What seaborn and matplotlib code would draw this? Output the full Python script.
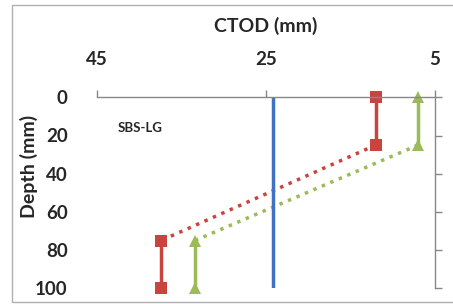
import seaborn as sns
import matplotlib.pyplot as plt
import matplotlib.patches as patches
import pandas as pd

# DATA #
depth = [0, 25, 75, 100]
red_ctod = [12, 12, 37.4, 37.4]
green_ctod = [7, 7, 33.4, 33.4]
blue_depth = [0, 100]
blue_ctod = [24.1, 24.1]
x_ticks = [45, 25, 5]
y_ticks = [0, 20, 40, 60, 80, 100]

red = '#C9443F'
green = '#9BBB59'
blue = '#3F72C2'

sns.set_style('white')
plt.rcParams['font.family'] = ['Lato', 'DejaVu Sans']
plt.rcParams['font.weight'] = 'bold'

fig = plt.figure(figsize=(4.53, 3.04), dpi=100)
# chart area border
fig.patches.append(patches.Rectangle((12 / 453, 2 / 304), 1.2, 297 / 304, transform=fig.transFigure,
                                     fill=False, edgecolor='#b0b0b0', lw=1.0))
ax = fig.add_axes([96.7 / 453, 1 - 288.3 / 304, (435 - 96.7) / 453, (288.3 - 97.3) / 304])

def seg(xs, ys, color, style, marker):
    d = pd.DataFrame({'x': xs, 'y': ys})
    sns.lineplot(data=d, x='x', y='y', sort=False, estimator=None, ax=ax, color=color,
                 linestyle=style, lw=2.5, marker=marker, markersize=8, markeredgewidth=0,
                 clip_on=False)

# solid end pieces and dotted middle
seg(red_ctod[0:2], depth[0:2], red, '-', 's')
seg(red_ctod[2:4], depth[2:4], red, '-', 's')
seg(red_ctod[1:3], depth[1:3], red, ':', None)
seg(green_ctod[0:2], depth[0:2], green, '-', '^')
seg(green_ctod[2:4], depth[2:4], green, '-', '^')
seg(green_ctod[1:3], depth[1:3], green, ':', None)
sns.lineplot(x=blue_ctod, y=blue_depth, sort=False, estimator=None, ax=ax, color=blue, lw=2.5)

ax.set_xlim(45, 5)
ax.set_ylim(100, 0)
ax.set_xticks(x_ticks)
ax.set_yticks(y_ticks)
ax.xaxis.set_ticks_position('top')
ax.xaxis.set_label_position('top')
ax.tick_params(axis='x', direction='out', length=5, width=1, color='#888888', pad=16,
               labelsize=13.5)
ax.tick_params(axis='y', left=False, right=True, labelleft=True, labelright=False,
               direction='out', length=5, width=1, color='#888888', pad=16, labelsize=13.5)
for s in ['left', 'bottom']:
    ax.spines[s].set_visible(False)
for s in ['top', 'right']:
    ax.spines[s].set_color('#888888')
    ax.spines[s].set_linewidth(1)
ax.set_xlabel('CTOD (mm)', fontsize=14, fontweight='bold', labelpad=14)
ax.set_ylabel('Depth (mm)', fontsize=14, fontweight='bold')
ax.yaxis.set_label_coords(-0.173, 0.64)
ax.text(42.5, 16, 'SBS-LG', fontsize=9.5, fontweight='bold', va='center', ha='left')
ax.set_facecolor('white')

plt.savefig('out.png', dpi=100)
